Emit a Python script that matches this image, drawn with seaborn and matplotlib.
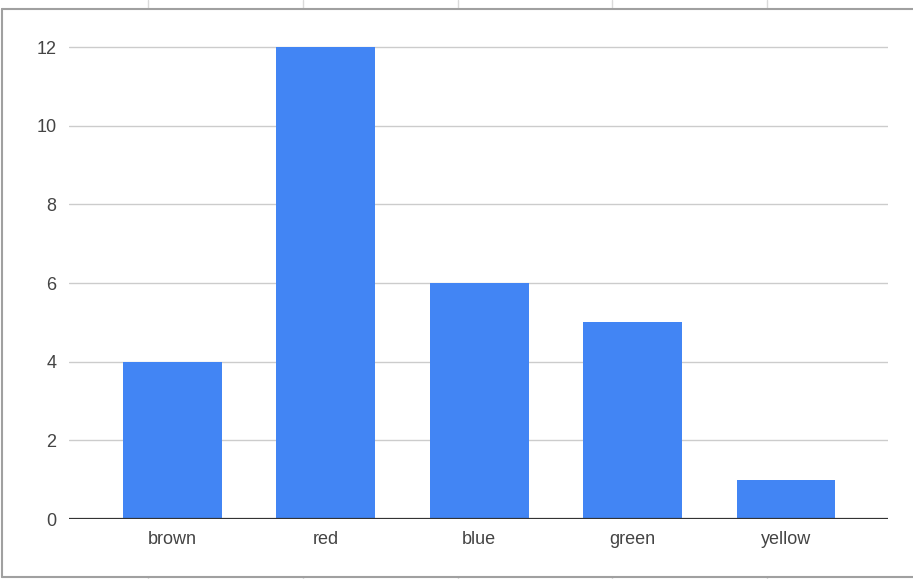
import matplotlib
matplotlib.use("Agg")
import matplotlib.pyplot as plt
from matplotlib.lines import Line2D
import seaborn as sns
import pandas as pd

categories = ["brown", "red", "blue", "green", "yellow"]
counts = [4, 12, 6, 5, 1]
yticks = [0, 2, 4, 6, 8, 10, 12]

df = pd.DataFrame({"color": categories, "count": counts})

sns.set_theme(style="white")
plt.rcParams['font.family'] = ['Liberation Sans', 'DejaVu Sans']

W, H = 913, 579
fig = plt.figure(figsize=(W / 100, H / 100), dpi=100)
fig.patch.set_facecolor("white")

ytop = 12.3
px_per_unit = (519 - 47) / 12
top_px = 519 - ytop * px_per_unit
ax = fig.add_axes([69 / W, 1 - 519 / H, (888 - 69) / W, (519 - top_px) / H])

sns.barplot(data=df, x="color", y="count", color="#4285F4", saturation=1,
            width=0.645, ax=ax, zorder=3, linewidth=0)

ax.set_xlim(-0.675, 4.665)
ax.set_ylim(0, ytop)
ax.set_yticks(yticks)
ax.set_yticklabels([str(v) for v in yticks])
ax.set_xlabel("")
ax.set_ylabel("")
for s in ["top", "right", "left", "bottom"]:
    ax.spines[s].set_visible(False)
ax.yaxis.grid(True, color="#cccccc", linewidth=1.0, zorder=0)
ax.set_axisbelow(True)
ax.axhline(0, color="#333333", linewidth=1.6, zorder=4)
ax.tick_params(axis="both", length=0, labelsize=13, colors="#444444")
ax.tick_params(axis="y", pad=9)
ax.tick_params(axis="x", pad=9)

# chart border and surrounding sheet cell lines
def px_line(x0, y0, x1, y1, color, lw):
    fig.add_artist(Line2D([x0 / W, x1 / W], [1 - y0 / H, 1 - y1 / H],
                          transform=fig.transFigure, color=color, linewidth=lw))

for xc in [148, 303, 458, 612, 767]:
    px_line(xc, 0, xc, 8, "#dadada", 1.0)
    px_line(xc, 577, xc, 579, "#dadada", 1.0)
px_line(2, 8.5, W + 5, 8.5, "#a0a0a0", 1.5)
px_line(2, 576.5, W + 5, 576.5, "#a0a0a0", 1.5)
px_line(2, 8.5, 2, 576.5, "#a0a0a0", 1.5)

fig.savefig("out.png", dpi=100, facecolor="white")
